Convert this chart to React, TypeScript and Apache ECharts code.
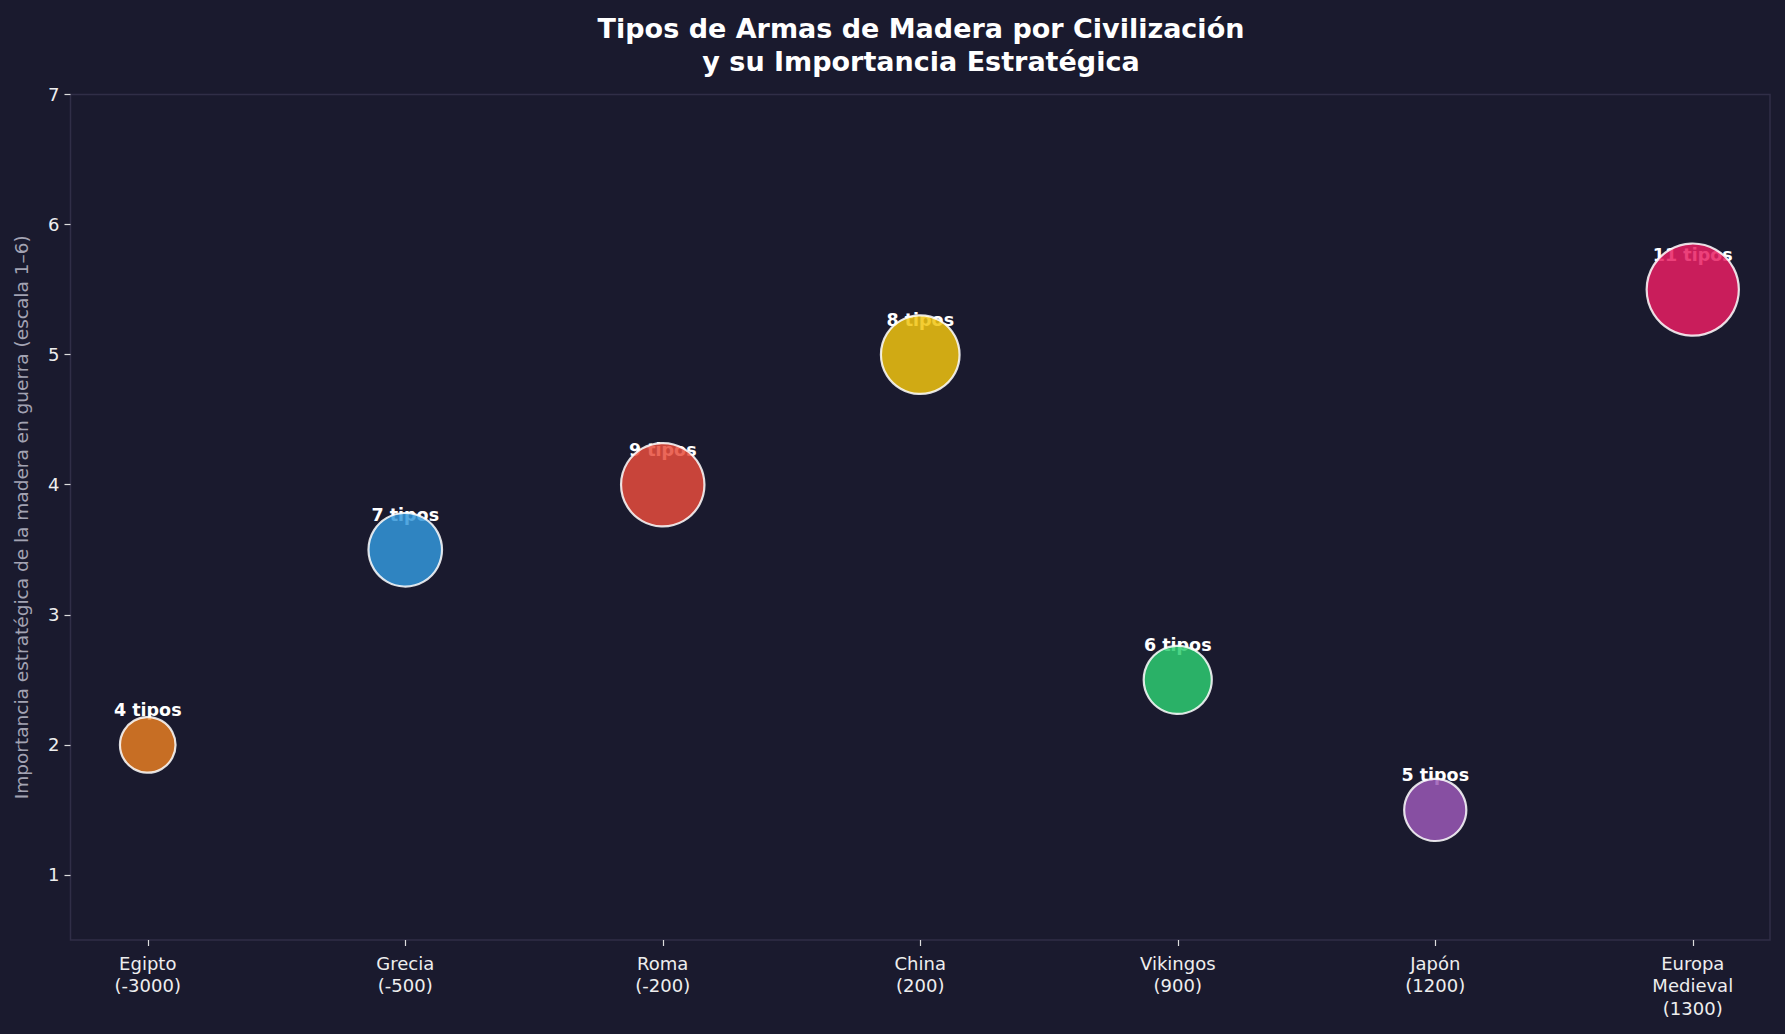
import React, { useEffect, useRef } from "react";
import * as echarts from "echarts";

const civilizations = ["Egipto", "Grecia", "Roma", "China", "Vikingos", "Japón", "Europa\nMedieval"];
const years = ["-3000", "-500", "-200", "200", "900", "1200", "1300"];
const importance = [2, 3.5, 4, 5, 2.5, 1.5, 5.5];
const weaponTypes = [4, 7, 9, 8, 6, 5, 11];
const colors = ["#E67E22", "#3498DB", "#E74C3C", "#F1C40F", "#2ECC71", "#9B59B6", "#E91E63"];
const yTicks = [1, 2, 3, 4, 5, 6, 7];
const xTicks = [0, 1, 2, 3, 4, 5, 6];

const FONT = "DejaVu Sans";
const BG = "#1a1a2e";
const FRAME = "#302e47";

export default function App() {
  const ref = useRef<HTMLDivElement>(null);
  useEffect(() => {
    if (!ref.current) return;
    document.body.style.margin = "0";
    document.body.style.background = BG;
    const chart = echarts.init(ref.current, undefined, { renderer: "svg" });
    const bubbleData = importance.map((v, i) => ({
      value: [i, v],
      symbolSize: Math.sqrt(weaponTypes[i]) * 27.8,
      itemStyle: { color: colors[i] },
    }));
    const labelData = importance.map((v, i) => ({
      value: [i, v],
      label: { formatter: `${weaponTypes[i]} tipos` },
    }));
    chart.setOption({
      animation: false,
      backgroundColor: BG,
      title: {
        text: "Tipos de Armas de Madera por Civilización\ny su Importancia Estratégica",
        left: 916,
        top: 7,
        textAlign: "center",
        textStyle: {
          color: "#ffffff",
          fontFamily: FONT,
          fontWeight: "bold",
          fontSize: 27,
          lineHeight: 33,
        },
      },
      grid: {
        left: 70.5,
        right: 15,
        top: 94.5,
        bottom: 94,
        show: true,
        borderColor: FRAME,
        borderWidth: 1.5,
        backgroundColor: "transparent",
      },
      xAxis: {
        type: "value",
        min: -0.3,
        max: 6.3,
        axisLine: { show: false, onZero: false },
        splitLine: { show: false },
        axisTick: {
          show: true,
          customValues: xTicks,
          length: 6,
          lineStyle: { color: "#dddddd", width: 1.2 },
        },
        axisLabel: {
          customValues: xTicks,
          color: "#eeeeee",
          fontFamily: FONT,
          fontSize: 18,
          lineHeight: 22.5,
          margin: 12,
          verticalAlign: "top",
          formatter: (v: number) => {
            const i = Math.round(v);
            return `${civilizations[i]}\n(${years[i]})`;
          },
        },
      },
      yAxis: {
        type: "value",
        min: 0.5,
        max: 7,
        axisLine: { show: false, onZero: false },
        splitLine: { show: false },
        axisTick: {
          show: true,
          customValues: yTicks,
          length: 6,
          lineStyle: { color: "#dddddd", width: 1.2 },
        },
        axisLabel: {
          customValues: yTicks,
          color: "#eeeeee",
          fontFamily: FONT,
          fontSize: 18,
          margin: 11,
        },
        name: "Importancia estratégica de la madera en guerra (escala 1–6)",
        nameLocation: "middle",
        nameGap: 40,
        nameTextStyle: {
          color: "#a3a3b3",
          fontFamily: FONT,
          fontSize: 18.5,
        },
      },
      series: [
        {
          type: "scatter",
          z: 1,
          symbolSize: 1,
          itemStyle: { color: "transparent" },
          silent: true,
          data: labelData,
          label: {
            show: true,
            position: "inside",
            offset: [0, -35],
            color: "#ffffff",
            opacity: 1,
            textBorderWidth: 0,
            textShadowBlur: 0,
            fontFamily: FONT,
            fontWeight: "bold",
            fontSize: 17.5,
          },
        },
        {
          type: "scatter",
          z: 3,
          data: bubbleData,
          itemStyle: {
            opacity: 0.85,
            borderColor: "#ffffff",
            borderWidth: 2.2,
          },
        },
      ],
    });
    return () => chart.dispose();
  }, []);
  return <div ref={ref} style={{ width: 1785, height: 1034 }} />;
}
